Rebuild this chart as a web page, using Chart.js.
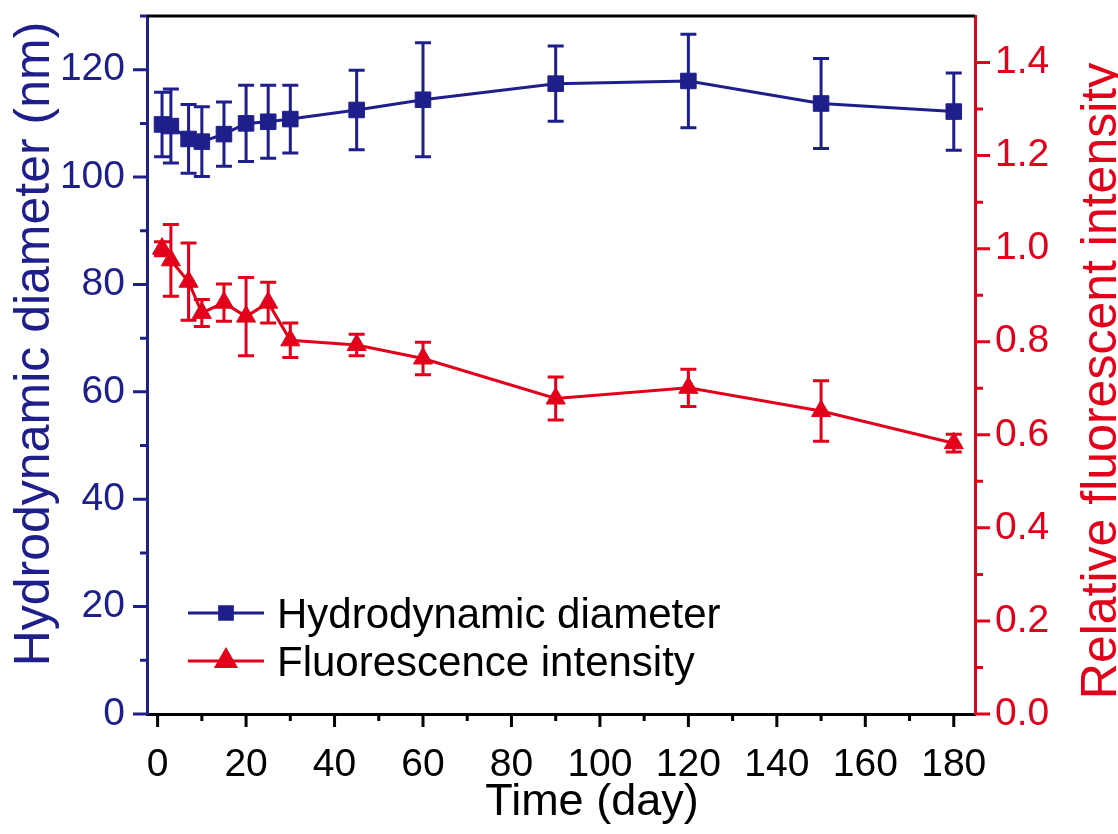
<!DOCTYPE html>
<html>
<head>
<meta charset="utf-8">
<script src="https://cdn.jsdelivr.net/npm/chart.js@4.4.1/dist/chart.umd.min.js"></script>
<style>
html, body { margin: 0; padding: 0; background: #fff; }
#marco { width: 1118px; height: 834px; }
</style>
</head>
<body>
<div id="marco"><canvas id="grafico" width="1118" height="834"></canvas></div>
<script>
// Datos
var dias = [1, 3, 7, 10, 15, 20, 25, 30, 45, 60, 90, 120, 150, 180];
var diametro = [109.8, 109.5, 107.1, 106.6, 108.0, 110.0, 110.3, 110.8, 112.5, 114.4, 117.4, 117.9, 113.7, 112.2];
var errDiametro = [6.0, 6.9, 6.4, 6.5, 6.0, 7.1, 6.8, 6.3, 7.4, 10.6, 7.0, 8.7, 8.4, 7.2];
var fluorescencia = [1.00, 0.975, 0.929, 0.862, 0.884, 0.854, 0.884, 0.803, 0.793, 0.764, 0.678, 0.701, 0.651, 0.582];
var errFluorescencia = [0.015, 0.077, 0.083, 0.029, 0.040, 0.084, 0.044, 0.037, 0.023, 0.035, 0.046, 0.040, 0.065, 0.019];

var etiquetas = ["Hydrodynamic diameter", "Fluorescence intensity"];

// Marcas de los ejes
var ticksX = [0, 20, 40, 60, 80, 100, 120, 140, 160, 180];
var menoresX = [10, 30, 50, 70, 90, 110, 130, 150, 170];
var ticksIzq = [0, 20, 40, 60, 80, 100, 120];
var menoresIzq = [10, 30, 50, 70, 90, 110, 130];
var ticksDer = [0, 0.2, 0.4, 0.6, 0.8, 1.0, 1.2, 1.4];
var menoresDer = [0.1, 0.3, 0.5, 0.7, 0.9, 1.1, 1.3];

var azul = "#1f1f8c";
var rojo = "#e2001a";
var fuente = "'Liberation Sans', Arial, sans-serif";

function juntar(a, b) {
    return a.concat(b).sort(function (p, q) { return p - q; }).map(function (v) { return { value: v }; });
}

// Barras de error (se dibujan debajo de los marcadores)
var barrasError = {
    id: "barrasError",
    beforeDatasetsDraw: function (chart) {
        var ctx = chart.ctx;
        var ejeX = chart.scales.x;
        var series = [
            { y: chart.scales.y, val: diametro, err: errDiametro, color: azul },
            { y: chart.scales.y2, val: fluorescencia, err: errFluorescencia, color: rojo }
        ];
        ctx.save();
        ctx.lineWidth = 3;
        series.forEach(function (s) {
            ctx.strokeStyle = s.color;
            for (var i = 0; i < dias.length; i++) {
                var px = ejeX.getPixelForValue(dias[i]);
                var arriba = s.y.getPixelForValue(s.val[i] + s.err[i]);
                var abajo = s.y.getPixelForValue(s.val[i] - s.err[i]);
                ctx.beginPath();
                ctx.moveTo(px, arriba);
                ctx.lineTo(px, abajo);
                ctx.moveTo(px - 8, arriba);
                ctx.lineTo(px + 8, arriba);
                ctx.moveTo(px - 8, abajo);
                ctx.lineTo(px + 8, abajo);
                ctx.stroke();
            }
        });
        ctx.restore();
    }
};

function marcas(ctx, escala, valores, largo, color, lado, area) {
    ctx.strokeStyle = color;
    ctx.lineWidth = 3;
    ctx.beginPath();
    valores.forEach(function (v) {
        var p = escala.getPixelForValue(v);
        if (lado === "abajo") {
            ctx.moveTo(p, area.bottom);
            ctx.lineTo(p, area.bottom + largo);
        } else if (lado === "izq") {
            ctx.moveTo(area.left, p);
            ctx.lineTo(area.left - largo, p);
        } else {
            ctx.moveTo(area.right, p);
            ctx.lineTo(area.right + largo, p);
        }
    });
    ctx.stroke();
}

// Marcas, borde superior, titulos y leyenda
var decorado = {
    id: "decorado",
    afterDraw: function (chart) {
        var ctx = chart.ctx;
        var a = chart.chartArea;
        ctx.save();

        // borde superior
        ctx.strokeStyle = "#000";
        ctx.lineWidth = 3;
        ctx.beginPath();
        ctx.moveTo(a.left, a.top);
        ctx.lineTo(a.right, a.top);
        ctx.stroke();

        marcas(ctx, chart.scales.x, ticksX, 13, "#000", "abajo", a);
        marcas(ctx, chart.scales.x, menoresX, 7, "#000", "abajo", a);
        marcas(ctx, chart.scales.y, ticksIzq, 14, azul, "izq", a);
        marcas(ctx, chart.scales.y, menoresIzq, 7, azul, "izq", a);
        marcas(ctx, chart.scales.y2, ticksDer, 15, rojo, "der", a);
        marcas(ctx, chart.scales.y2, menoresDer, 8, rojo, "der", a);

        // titulos de los ejes
        ctx.textAlign = "center";
        ctx.textBaseline = "alphabetic";
        ctx.font = "50px " + fuente;
        ctx.fillStyle = azul;
        ctx.save();
        ctx.translate(49, 344);
        ctx.rotate(-Math.PI / 2);
        ctx.fillText("Hydrodynamic diameter (nm)", 0, 0);
        ctx.restore();

        ctx.fillStyle = rojo;
        ctx.save();
        ctx.translate(1116, 381);
        ctx.rotate(-Math.PI / 2);
        ctx.fillText("Relative fluorescent intensity", 0, 0);
        ctx.restore();

        ctx.font = "45px " + fuente;
        ctx.fillStyle = "#000";
        ctx.fillText("Time (day)", 592, 815);

        // leyenda
        var filas = [
            { y: 613, color: azul, estilo: "rect", r: 9 },
            { y: 661, color: rojo, estilo: "triangle", r: 11 }
        ];
        ctx.font = "42px " + fuente;
        ctx.textAlign = "left";
        filas.forEach(function (f, i) {
            ctx.strokeStyle = f.color;
            ctx.lineWidth = 3;
            ctx.beginPath();
            ctx.moveTo(188, f.y);
            ctx.lineTo(264, f.y);
            ctx.stroke();
            ctx.fillStyle = f.color;
            Chart.helpers.drawPoint(ctx, { pointStyle: f.estilo, radius: f.r, borderWidth: 1, rotation: 0 }, 226, f.y);
            ctx.fillStyle = "#000";
            ctx.fillText(etiquetas[i], 277, f.y + 15);
        });
        ctx.restore();
    }
};

function ajustarVertical(ancho) {
    return function (escala) {
        escala.width = ancho;
        escala.paddingTop = 0;
        escala.paddingBottom = 0;
    };
}

var ctx = document.getElementById("grafico").getContext("2d");
var grafico = new Chart(ctx, {
    type: "line",
    data: {
        datasets: [{
            label: etiquetas[0],
            data: dias.map(function (d, i) { return { x: d, y: diametro[i] }; }),
            yAxisID: "y",
            borderColor: azul,
            backgroundColor: azul,
            borderWidth: 3,
            pointStyle: "rect",
            pointRadius: 11,
            pointBorderWidth: 1,
            pointBackgroundColor: azul,
            pointBorderColor: azul,
            tension: 0,
            clip: false
        }, {
            label: etiquetas[1],
            data: dias.map(function (d, i) { return { x: d, y: fluorescencia[i] }; }),
            yAxisID: "y2",
            borderColor: rojo,
            backgroundColor: rojo,
            borderWidth: 3,
            pointStyle: "triangle",
            pointRadius: 11,
            pointBorderWidth: 1,
            pointBackgroundColor: rojo,
            pointBorderColor: rojo,
            tension: 0,
            clip: false
        }]
    },
    options: {
        responsive: false,
        animation: false,
        devicePixelRatio: 1,
        layout: { padding: { top: 16, left: 0, right: 0, bottom: 0 } },
        plugins: {
            legend: { display: false },
            tooltip: { enabled: false }
        },
        scales: {
            x: {
                type: "linear",
                min: -2.4,
                max: 184.8,
                afterBuildTicks: function (escala) { escala.ticks = juntar(ticksX, menoresX); },
                afterFit: function (escala) {
                    escala.height = 120;
                    escala.paddingLeft = 0;
                    escala.paddingRight = 0;
                },
                border: { display: true, color: "#000", width: 3 },
                grid: { drawOnChartArea: false, drawTicks: true, tickLength: 13, tickColor: "rgba(0,0,0,0)" },
                ticks: {
                    autoSkip: false,
                    maxRotation: 0,
                    padding: 15,
                    color: "#000",
                    font: { family: fuente, size: 39 },
                    callback: function (v) { return ticksX.indexOf(v) >= 0 ? String(v) : ""; }
                }
            },
            y: {
                type: "linear",
                position: "left",
                min: 0,
                max: 130,
                afterBuildTicks: function (escala) { escala.ticks = juntar(ticksIzq, menoresIzq); },
                afterFit: ajustarVertical(147),
                border: { display: true, color: azul, width: 3 },
                grid: { drawOnChartArea: false, drawTicks: true, tickLength: 14, tickColor: "rgba(0,0,0,0)" },
                ticks: {
                    autoSkip: false,
                    padding: 8,
                    color: azul,
                    font: { family: fuente, size: 39 },
                    callback: function (v) { return ticksIzq.indexOf(v) >= 0 ? String(v) : ""; }
                }
            },
            y2: {
                type: "linear",
                position: "right",
                min: 0,
                max: 1.5,
                afterBuildTicks: function (escala) { escala.ticks = juntar(ticksDer, menoresDer); },
                afterFit: ajustarVertical(143),
                border: { display: true, color: rojo, width: 3 },
                grid: { drawOnChartArea: false, drawTicks: true, tickLength: 15, tickColor: "rgba(0,0,0,0)" },
                ticks: {
                    autoSkip: false,
                    padding: 5,
                    color: rojo,
                    font: { family: fuente, size: 39 },
                    callback: function (v) { return ticksDer.indexOf(v) >= 0 ? v.toFixed(1) : ""; }
                }
            }
        }
    },
    plugins: [barrasError, decorado]
});
</script>
</body>
</html>
